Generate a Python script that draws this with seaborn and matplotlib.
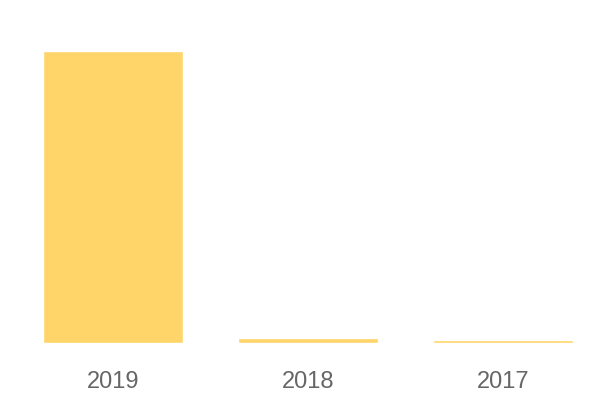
import pandas as pd
import seaborn as sns
import matplotlib.pyplot as plt

# данные
years = ['2019', '2018', '2017']
values = [100, 1.6, 0.9]

df = pd.DataFrame({'year': years, 'value': values})

sns.set_style('white')
plt.rcParams['font.family'] = ['Liberation Sans', 'DejaVu Sans']

fig = plt.figure(figsize=(6, 4), dpi=100)
ax = fig.add_axes([43 / 600, 57 / 400, 530 / 600, 292 / 400])

sns.barplot(data=df, x='year', y='value', color='#ffd56a', saturation=1,
            width=0.718, ax=ax)

ax.set_xlim(-0.359, 2.359)
ax.set_ylim(0, 100)
ax.set_xlabel('')
ax.set_ylabel('')
ax.set_yticks([])
ax.tick_params(axis='x', length=0, pad=20, labelsize=17, labelcolor='#666666')
sns.despine(ax=ax, left=True, bottom=True)

fig.savefig('out.png', dpi=100)
